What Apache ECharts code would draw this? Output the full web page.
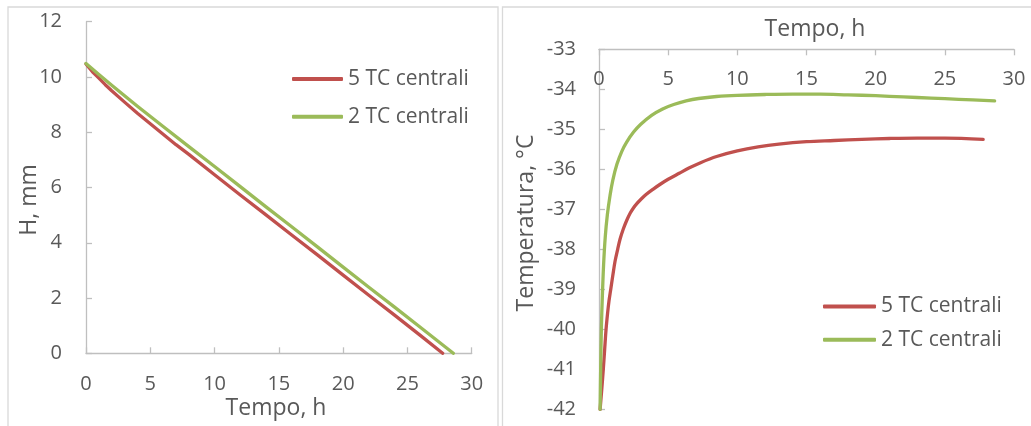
<!DOCTYPE html>
<html>
<head>
<meta charset="utf-8">
<script src="https://cdn.jsdelivr.net/npm/echarts@6/dist/echarts.min.js"></script>
<style>
  html, body { margin: 0; padding: 0; background: #ffffff; }
  #chart { width: 1031px; height: 426px; }
</style>
</head>
<body>
<div id="chart"></div>
<script>
// Series names
var seriesNames = ['5 TC centrali', '2 TC centrali'];

// Left panel: thickness H (mm) versus time (h)
var hTime5 = [0, 0.5, 1, 1.5, 2, 3, 4, 5, 6, 7, 8, 10, 12, 14, 16, 18, 20, 22, 24, 26, 27.74];
var hVal5  = [10.47, 10.19, 9.96, 9.72, 9.5, 9.09, 8.69, 8.31, 7.93, 7.55, 7.2, 6.46, 5.73, 5.01, 4.28, 3.56, 2.83, 2.1, 1.38, 0.65, 0];
var hTime2 = [0, 1, 2, 3, 4, 6, 8, 10, 12, 14, 16, 18, 20, 22, 24, 26, 28, 28.57];
var hVal2  = [10.49, 10.09, 9.7, 9.32, 8.94, 8.21, 7.48, 6.76, 6.03, 5.3, 4.58, 3.85, 3.12, 2.39, 1.67, 0.94, 0.21, 0];

// Right panel: temperature (°C) versus time (h)
var tTime5 = [0.08, 0.2, 0.31, 0.41, 0.51, 0.62, 0.72, 0.85, 1.0, 1.16, 1.35, 1.52, 1.75, 2.0, 2.25, 2.5, 2.75, 3.0, 3.4, 3.9, 4.4, 5.0, 5.8, 6.5, 7.3, 8.5, 10, 11.5, 13, 15, 17, 19, 21, 23, 25, 27.77];
var tVal5  = [-42, -41.5, -41.0, -40.5, -40.0, -39.6, -39.3, -39.0, -38.65, -38.3, -38.0, -37.75, -37.5, -37.28, -37.1, -36.96, -36.85, -36.76, -36.63, -36.5, -36.38, -36.25, -36.1, -35.97, -35.84, -35.68, -35.54, -35.44, -35.37, -35.31, -35.28, -35.25, -35.23, -35.22, -35.22, -35.25];
var tTime2 = [0.08, 0.12, 0.17, 0.24, 0.33, 0.45, 0.6, 0.8, 1.0, 1.3, 1.65, 2.0, 2.5, 3.0, 3.8, 4.6, 5.4, 6.3, 7.2, 8.5, 10, 12, 14, 16, 18, 20, 22, 24, 26, 28.6];
var tVal2  = [-42, -41, -40, -39.2, -38.4, -37.7, -37.15, -36.65, -36.27, -35.87, -35.55, -35.32, -35.07, -34.88, -34.65, -34.49, -34.38, -34.29, -34.23, -34.18, -34.15, -34.13, -34.12, -34.12, -34.14, -34.16, -34.19, -34.22, -34.25, -34.29];

// Axis titles
var hXTitle = 'Tempo, h';
var hYTitle = 'H, mm';
var tXTitle = 'Tempo, h';
var tYTitle = 'Temperatura, °C';

function pairs(xs, ys) {
  return xs.map(function (x, i) { return [x, ys[i]]; });
}

var FONT = '"Open Sans", "Liberation Sans", sans-serif';
var TEXT = '#595959';
var AXIS = '#bfbfbf';
var RED = '#C0504D';
var GREEN = '#9BBB59';

function axisCommon(extra) {
  var base = {
    type: 'value',
    splitLine: { show: false },
    axisLine: { show: true, onZero: false, lineStyle: { color: AXIS, width: 1.3 } },
    axisTick: { show: true, inside: true, length: 6, lineStyle: { color: AXIS, width: 1.3 } },
    axisLabel: { color: TEXT, fontSize: 20, fontFamily: FONT }
  };
  for (var k in extra) {
    if (k === 'axisLabel') {
      for (var j in extra.axisLabel) base.axisLabel[j] = extra.axisLabel[j];
    } else {
      base[k] = extra[k];
    }
  }
  return base;
}

var chart = echarts.init(document.getElementById('chart'), null, { renderer: 'canvas' });

var lineSeries = function (name, data, axisIdx, color, smooth) {
  return {
    name: name,
    type: 'line',
    xAxisIndex: axisIdx,
    yAxisIndex: axisIdx,
    data: data,
    showSymbol: false,
    smooth: smooth,
    lineStyle: { color: color, width: 3.3, cap: 'round', join: 'round' },
    itemStyle: { color: color },
    animation: false
  };
};

var titleStyle = { fill: TEXT, fontSize: 23, fontFamily: FONT, textAlign: 'center', textVerticalAlign: 'middle' };
function titleText(text, x, y, rot) {
  var st = {};
  for (var k in titleStyle) st[k] = titleStyle[k];
  st.text = text;
  return { type: 'text', x: x, y: y, rotation: rot || 0, style: st, z: 10 };
}

chart.setOption({
  backgroundColor: '#ffffff',
  animation: false,
  grid: [
    { left: 86, top: 21.7, width: 385.7, height: 331.6 },
    { left: 599, top: 49.3, width: 415, height: 360 }
  ],
  xAxis: [
    axisCommon({ gridIndex: 0, min: 0, max: 30, interval: 5, position: 'bottom',
      axisLabel: { margin: 21 } }),
    axisCommon({ gridIndex: 1, min: 0, max: 30, interval: 5, position: 'top',
      axisLabel: { inside: true, margin: 20 } })
  ],
  yAxis: [
    axisCommon({ gridIndex: 0, min: 0, max: 12, interval: 2,
      axisLabel: { margin: 24 } }),
    axisCommon({ gridIndex: 1, min: -42, max: -33, interval: 1,
      axisLabel: { margin: 23 } })
  ],
  legend: [
    {
      orient: 'vertical', left: 292, top: 68.5, padding: 0,
      itemWidth: 51, itemHeight: 4, itemGap: 16.7, icon: 'roundRect',
      textStyle: { color: TEXT, fontSize: 21, fontFamily: FONT },
      data: seriesNames, selectedMode: false
    },
    {
      orient: 'vertical', left: 823, top: 296, padding: 0,
      itemWidth: 53, itemHeight: 4, itemGap: 12.3, icon: 'roundRect',
      textStyle: { color: TEXT, fontSize: 21, fontFamily: FONT },
      data: seriesNames, selectedMode: false
    }
  ],
  graphic: [
    // panel frames
    { type: 'rect', shape: { x: 8, y: 7, width: 490, height: 440 },
      style: { fill: 'none', stroke: '#d9d9d9', lineWidth: 1.3 }, z: -1 },
    { type: 'rect', shape: { x: 502.5, y: 7, width: 560, height: 440 },
      style: { fill: 'none', stroke: '#d9d9d9', lineWidth: 1.3 }, z: -1 },
    titleText(hXTitle, 276, 408),
    titleText(hYTitle, 29, 200, Math.PI / 2),
    titleText(tXTitle, 815, 29.5),
    titleText(tYTitle, 526.5, 223, Math.PI / 2)
  ],
  series: [
    lineSeries(seriesNames[0], pairs(hTime5, hVal5), 0, RED, false),
    lineSeries(seriesNames[1], pairs(hTime2, hVal2), 0, GREEN, false),
    lineSeries(seriesNames[0], pairs(tTime5, tVal5), 1, RED, 0.35),
    lineSeries(seriesNames[1], pairs(tTime2, tVal2), 1, GREEN, 0.35)
  ]
});
</script>
</body>
</html>
